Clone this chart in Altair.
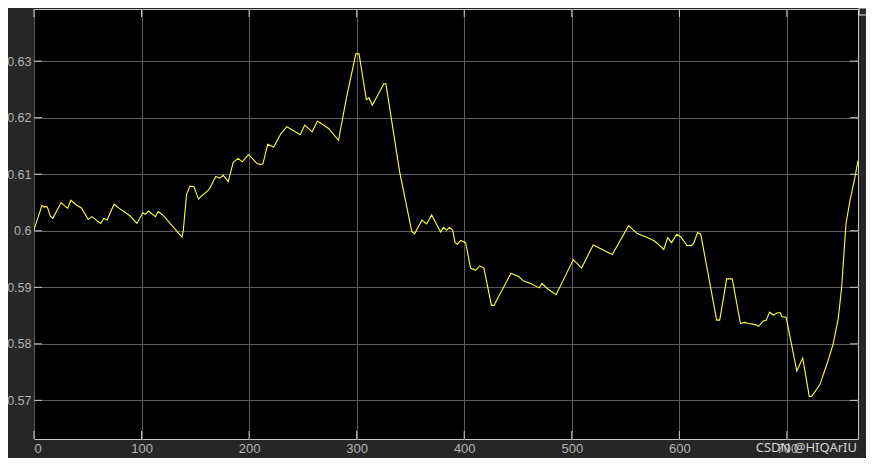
import altair as alt
import pandas as pd

# Signal samples
t = [0, 7.4, 9.5, 11.4, 12.6, 15.1, 17.5, 25.2, 29.8, 31.4, 34.2, 39.1, 44.3, 50.4, 53.8,
     61.9, 64.9, 68.0, 74.4, 79.0, 88.9, 95.7, 101.2, 103.4, 106.5, 112.9, 115.4, 119.7,
     137.6, 138.8, 141.8, 145.0, 148.7, 152.9, 156.1, 159.8, 162.8, 169.0, 172.7, 176.0,
     180.6, 185.2, 189.9, 193.6, 198.2, 199.5, 207.4, 211.1, 212.9, 217.3, 222.8, 229.6,
     235.1, 247.5, 251.7, 258.6, 263.5, 273.9, 283.1, 290.5, 299.2, 302.2, 309.0, 311.5,
     314.5, 325.3, 327.2, 339.8, 351.2, 354.0, 360.7, 365.0, 369.7, 378.0, 380.7, 383.5,
     386.3, 389.3, 391.5, 393.7, 396.7, 401.3, 405.9, 410.6, 414.3, 418.3, 425.3, 427.6,
     443.5, 450.6, 455.3, 461.4, 469.7, 472.2, 477.7, 485.4, 501.4, 509.1, 519.9, 526.0,
     537.7, 552.8, 560.8, 569.1, 573.7, 576.8, 579.3, 585.5, 589.2, 592.8, 597.5, 601.4,
     607.0, 611.3, 613.4, 616.9, 619.9, 634.7, 637.5, 644.0, 649.2, 656.8, 660.5, 664.5,
     670.7, 673.7, 677.8, 680.8, 683.9, 687.3, 691.3, 693.8, 695.3, 699.3, 709.2, 714.7,
     720.8, 723.0, 730.7, 738.4, 743.0, 747.7, 750.9, 754.9, 758.6, 763.2, 766.1]
v = [0.6002, 0.6045, 0.6042, 0.6043, 0.6041, 0.6026, 0.6022, 0.6050, 0.6042, 0.6040, 0.6054,
     0.6046, 0.6040, 0.6020, 0.6025, 0.6013, 0.6022, 0.6019, 0.6047, 0.6040, 0.6027, 0.6013,
     0.6032, 0.6029, 0.6035, 0.6025, 0.6034, 0.6028, 0.5989, 0.6000, 0.6064, 0.6079, 0.6078,
     0.6056, 0.6062, 0.6068, 0.6073, 0.6096, 0.6093, 0.6098, 0.6087, 0.6121, 0.6128, 0.6122,
     0.6132, 0.6135, 0.6119, 0.6117, 0.6119, 0.6153, 0.6148, 0.6172, 0.6184, 0.6170, 0.6187,
     0.6175, 0.6194, 0.6181, 0.6160, 0.6235, 0.6313, 0.6313, 0.6232, 0.6235, 0.6222, 0.6260,
     0.6260, 0.6106, 0.5999, 0.5995, 0.6019, 0.6012, 0.6028, 0.5998, 0.6006, 0.6001, 0.6006,
     0.6001, 0.5979, 0.5976, 0.5983, 0.5979, 0.5934, 0.5930, 0.5938, 0.5934, 0.5868, 0.5868,
     0.5925, 0.5919, 0.5911, 0.5907, 0.5899, 0.5907, 0.5897, 0.5887, 0.5949, 0.5934, 0.5975,
     0.5969, 0.5958, 0.6009, 0.5995, 0.5989, 0.5985, 0.5982, 0.5978, 0.5967, 0.5988, 0.5979,
     0.5994, 0.5989, 0.5974, 0.5974, 0.5978, 0.5997, 0.5994, 0.5842, 0.5842, 0.5915, 0.5915,
     0.5836, 0.5838, 0.5836, 0.5834, 0.5831, 0.5840, 0.5842, 0.5856, 0.5851, 0.5855, 0.5855,
     0.5848, 0.5847, 0.5752, 0.5775, 0.5707, 0.5707, 0.5728, 0.5771, 0.5800, 0.5844, 0.5900,
     0.6012, 0.6053, 0.6094, 0.6124]

x_ticks = [0, 100, 200, 300, 400, 500, 600, 700]
y_ticks = [0.57, 0.58, 0.59, 0.60, 0.61, 0.62, 0.63]
x_domain = [0, 766.1]
y_domain = [0.56317, 0.63923]
watermark = "CSDN @HIQArIU"

W, H = 824, 430
TICK = 8
LABEL = "#b4b4b4"
TICKC = "#c8c8c8"

df = pd.DataFrame({"t": t, "v": v})
xt = pd.DataFrame({"t": x_ticks})
yt = pd.DataFrame({"v": y_ticks})

xs = alt.Scale(domain=x_domain, nice=False, zero=False)
ys = alt.Scale(domain=y_domain, nice=False, zero=False)

xaxis = alt.Axis(values=x_ticks, title=None, grid=True, gridColor="#5c5c5c",
                 ticks=False, domain=False, labelColor=LABEL, labelFontSize=13,
                 labelFont="Liberation Sans", labelPadding=3, format="d")
yaxis = alt.Axis(values=y_ticks, title=None, grid=True, gridColor="#5c5c5c",
                 ticks=False, domain=False, labelColor=LABEL, labelFontSize=12.5,
                 labelFont="Liberation Sans", labelPadding=3, format=".2~f")

line = alt.Chart(df).mark_line(color="#ffff3c", strokeWidth=1.1, clip=True).encode(
    x=alt.X("t:Q", scale=xs, axis=xaxis),
    y=alt.Y("v:Q", scale=ys, axis=yaxis),
)

bt = alt.Chart(xt).mark_rule(color=TICKC, strokeWidth=1).encode(
    x=alt.X("t:Q", scale=xs, axis=xaxis), y=alt.value(H), y2=alt.value(H - TICK))
tt = alt.Chart(xt).mark_rule(color=TICKC, strokeWidth=1).encode(
    x=alt.X("t:Q", scale=xs, axis=xaxis), y=alt.value(0), y2=alt.value(TICK))
lt = alt.Chart(yt).mark_rule(color=TICKC, strokeWidth=1).encode(
    y=alt.Y("v:Q", scale=ys, axis=yaxis), x=alt.value(0), x2=alt.value(TICK))
rt = alt.Chart(yt).mark_rule(color=TICKC, strokeWidth=1).encode(
    y=alt.Y("v:Q", scale=ys, axis=yaxis), x=alt.value(W - TICK), x2=alt.value(W))

wm = alt.Chart(pd.DataFrame({"s": [watermark]})).mark_text(
    align="right", baseline="middle", fontSize=13, font="Noto Sans", color="#d6d6d6"
).encode(text="s:N", x=alt.value(W - 1), y=alt.value(H + 9))

icon = alt.Chart(pd.DataFrame({"s": ["i"]})).mark_rect(
    fill="#2a2a2a", stroke="#e6e6e6", strokeWidth=1
).encode(x=alt.value(W + 1), x2=alt.value(W + 14), y=alt.value(-1), y2=alt.value(6))

chart = alt.layer(line, bt, tt, lt, rt, wm, icon).properties(
    width=W, height=H,
    padding={"left": 26, "top": 1, "right": 8, "bottom": 19},
    autosize=alt.AutoSizeParams(type="none"),
    background="#262626",
).configure_view(fill="#000000", stroke="#c8c8c8", strokeWidth=1)

chart.save("out.html", embed_options={"renderer": "svg", "actions": False})
